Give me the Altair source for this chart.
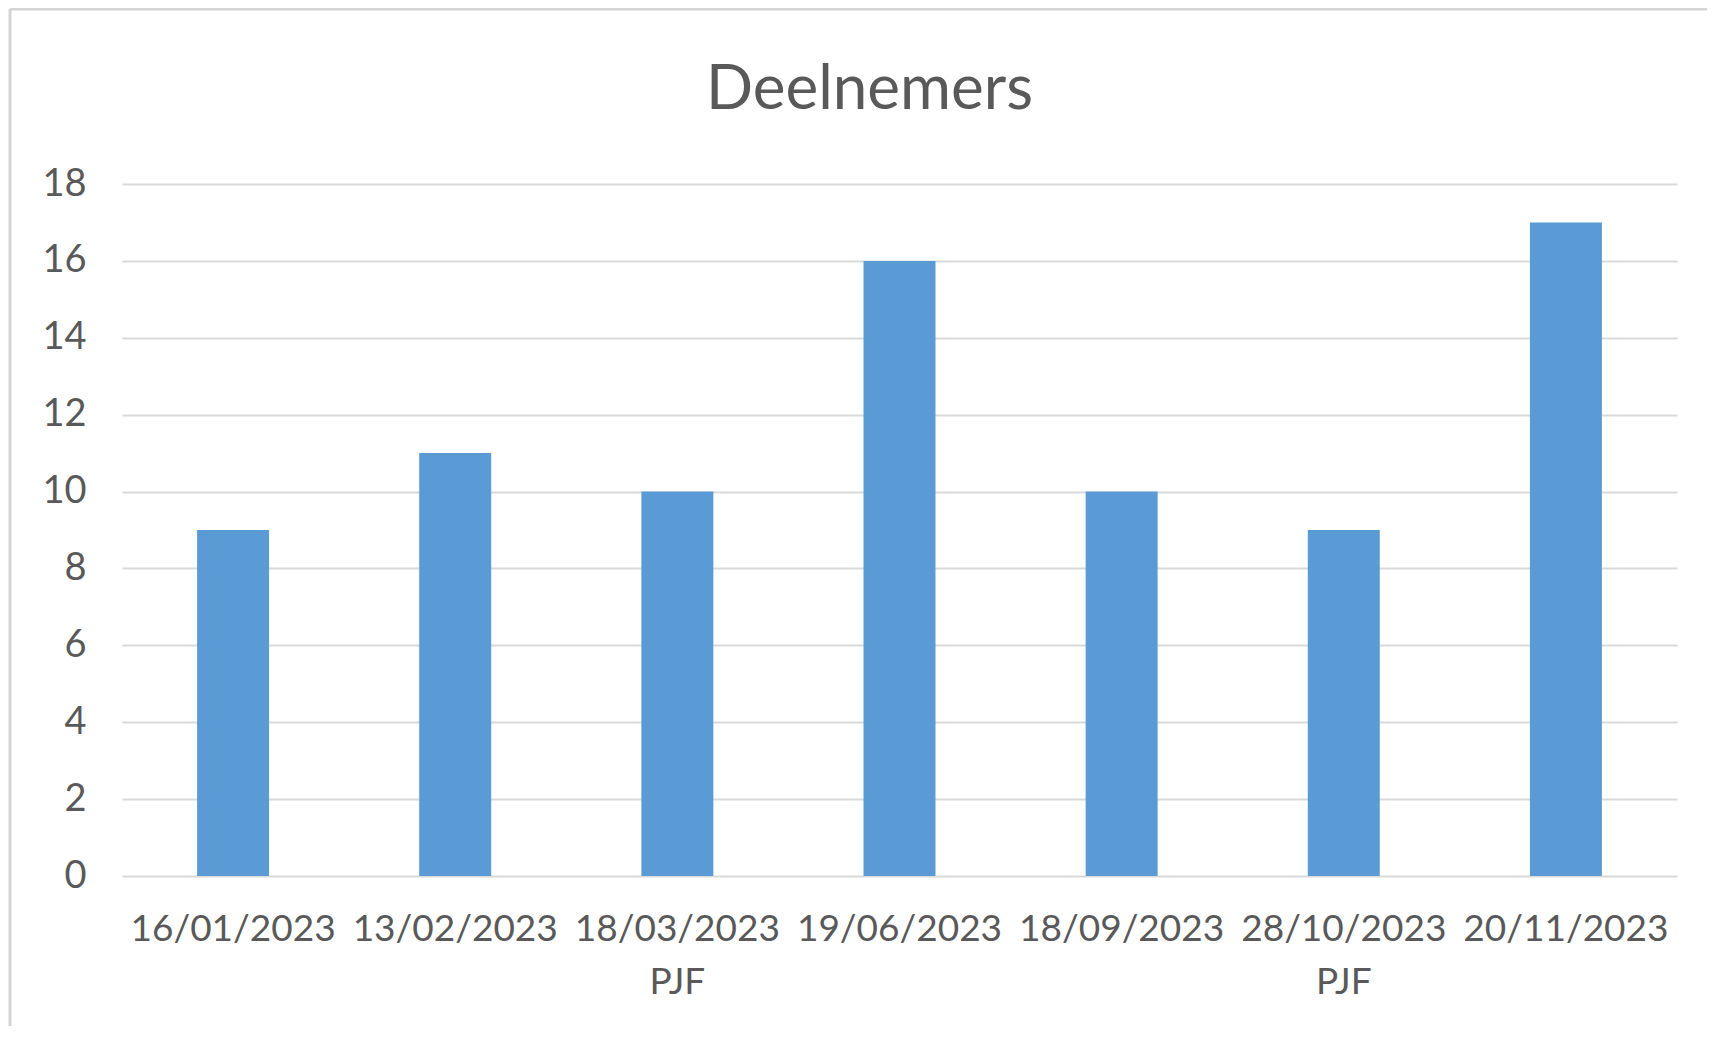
import altair as alt
import pandas as pd

# Data
dates = ["16/01/2023", "13/02/2023", "18/03/2023 PJF", "19/06/2023",
         "18/09/2023", "28/10/2023 PJF", "20/11/2023"]
participants = [9, 11, 10, 16, 10, 9, 17]
y_ticks = [0, 2, 4, 6, 8, 10, 12, 14, 16, 18]

df = pd.DataFrame({"datum": dates, "deelnemers": participants})

FONT = "Lato"
TEXT_COLOR = "#595959"
GRID_COLOR = "#D9D9D9"
BAR_COLOR = "#5B9BD5"

W, H = 1555, 692

bars = alt.Chart(df).mark_bar(color=BAR_COLOR).encode(
    x=alt.X(
        "datum:N",
        sort=dates,
        scale=alt.Scale(paddingInner=0.676, paddingOuter=0.338),
        axis=alt.Axis(
            title=None,
            labelAngle=0,
            labelFont=FONT,
            labelFontSize=37,
            labelColor=TEXT_COLOR,
            labelPadding=35,
            labelLineHeight=53,
            labelExpr="split(datum.value, ' ')",
            labelOverlap=False,
            labelLimit=400,
            ticks=False,
            domain=False,
            grid=False,
        ),
    ),
    y=alt.Y(
        "deelnemers:Q",
        scale=alt.Scale(domain=[0, 18], nice=False),
        axis=alt.Axis(
            title=None,
            values=y_ticks,
            labelFont=FONT,
            labelFontSize=38,
            labelColor=TEXT_COLOR,
            labelPadding=36,
            ticks=False,
            domain=False,
            grid=True,
            gridColor=GRID_COLOR,
            gridWidth=2,
        ),
    ),
)

frame_df = pd.DataFrame({"k": [0]})
frame_left = alt.Chart(frame_df).mark_rule(color="#D4D4D4", strokeWidth=3).encode(
    x=alt.value(-112), y=alt.value(-175), y2=alt.value(H + 150)
)
frame_top = alt.Chart(frame_df).mark_rule(color="#D4D4D4", strokeWidth=3).encode(
    x=alt.value(-112), x2=alt.value(W + 40), y=alt.value(-175)
)

chart = alt.layer(bars, frame_left, frame_top).properties(
    width=W,
    height=H,
    title=alt.Title(
        "Deelnemers",
        font=FONT,
        fontSize=62,
        fontWeight="normal",
        color=TEXT_COLOR,
        anchor="middle",
        frame="group",
        baseline="alphabetic",
        dx=-30,
        offset=-163,
    ),
    autosize=alt.AutoSizeParams(type="none"),
    padding={"left": 114, "top": 176, "right": 30, "bottom": 150},
).configure_view(stroke=None)

chart.save("out.html", embed_options={"renderer": "svg", "actions": False})
